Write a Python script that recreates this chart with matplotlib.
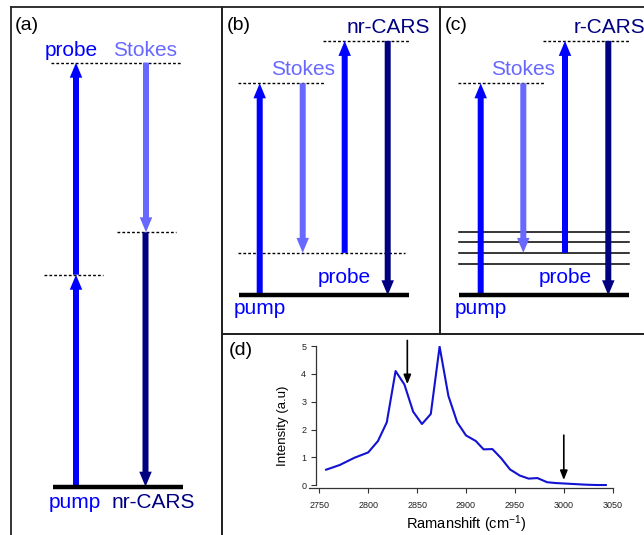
import matplotlib
matplotlib.use("Agg")
import matplotlib.pyplot as plt

plt.rcParams['font.family'] = ['Liberation Sans', 'DejaVu Sans']
plt.rcParams['mathtext.default'] = 'regular'

# ---------------- data ----------------
# photon energies (units of pump photon energy)
pump_energy = 1.0
probe_energy = 1.0
stokes_energy = 0.80
cars_energy = pump_energy + probe_energy - stokes_energy
vib_levels = [0.15, 0.20, 0.25, 0.30]

# Raman spectrum, panel (d)
raman_shift = [2757, 2771, 2786, 2800, 2810, 2819, 2828, 2837, 2846, 2855,
               2864, 2873, 2882, 2891, 2900, 2910, 2918, 2927, 2936, 2945,
               2955, 2964, 2973, 2983, 2992, 3003, 3013, 3024, 3034, 3043]
intensity = [0.56, 0.73, 0.99, 1.18, 1.59, 2.26, 4.10, 3.62, 2.64, 2.20,
             2.56, 4.98, 3.21, 2.26, 1.79, 1.59, 1.29, 1.30, 0.97, 0.57,
             0.35, 0.24, 0.26, 0.11, 0.08, 0.06, 0.04, 0.02, 0.01, 0.01]
marker_shift = [2840, 3000]
marker_top = [5.2, 1.8]
marker_tip = [3.63, 0.19]
x_ticks = [2750, 2800, 2850, 2900, 2950, 3000, 3050]
y_ticks = [0, 1, 2, 3, 4, 5]

# ---------------- style ----------------
W, H = 644, 535
SCALE = 212.0  # px per energy unit
C_PUMP = '#0000ff'
C_STOKES = '#6868ff'
C_CARS = '#000080'
BORDER = '#222222'
LABEL_FS = 15

fig = plt.figure(figsize=(W / 100, H / 100), dpi=100)


def panel_axes(left, top, right, bottom, ground, spines):
    ax = fig.add_axes([left / W, 1 - bottom / H, (right - left) / W, (bottom - top) / H])
    ax.set_xlim(left, right)
    ax.set_ylim((ground - bottom) / SCALE, (ground - top) / SCALE)
    ax.set_xticks([])
    ax.set_yticks([])
    ax.patch.set_alpha(0)
    for k, s in ax.spines.items():
        s.set_visible(k in spines)
        s.set_color(BORDER)
        s.set_linewidth(1.3)
    return ax


def E(ground, px):
    return (ground - px) / SCALE


def arrow(ax, x, e0, e1, color):
    ax.arrow(x, e0, 0, e1 - e0, width=6, head_width=12.5, head_length=15 / SCALE,
             length_includes_head=True, color=color, lw=0, zorder=3)


def dashed(ax, x0, x1, e):
    ax.plot([x0, x1], [e, e], color='black', lw=1.0, ls=(0, (2.0, 1.5)), zorder=2)


def ground_line(ax, x0, x1):
    ax.plot([x0, x1], [0, 0], color='black', lw=3.2, solid_capstyle='butt', zorder=4)


# ---------------- panel (a) ----------------
ga = 486.7
axa = panel_axes(11, 7, 222, 545, ga, ['left', 'top', 'right'])
ground_line(axa, 53, 183)
arrow(axa, 76, 0, pump_energy, C_PUMP)
arrow(axa, 76, pump_energy, pump_energy + probe_energy, C_PUMP)
arrow(axa, 146, pump_energy + probe_energy, pump_energy + probe_energy - stokes_energy, C_STOKES)
arrow(axa, 145.5, cars_energy, 0, C_CARS)
dashed(axa, 51, 181, pump_energy + probe_energy)
dashed(axa, 44, 103, pump_energy)
dashed(axa, 117, 176, cars_energy)
axa.text(15, E(ga, 30), '(a)', fontsize=14, ha='left', va='baseline')
axa.text(71, E(ga, 56.5), 'probe', color=C_PUMP, fontsize=LABEL_FS, ha='center', va='baseline')
axa.text(145, E(ga, 56.5), 'Stokes', color=C_STOKES, fontsize=LABEL_FS, ha='center', va='baseline')
axa.text(75, E(ga, 507.5), 'pump', color=C_PUMP, fontsize=LABEL_FS, ha='center', va='baseline')
axa.text(153, E(ga, 508), 'nr-CARS', color=C_CARS, fontsize=LABEL_FS, ha='center', va='baseline')

# ---------------- panels (b) and (c) ----------------
gb = 295.3
panels = [
    dict(left=222, right=440, spines=['left', 'top', 'right', 'bottom'], tag='(b)',
         xs=[259.7, 302.7, 344.7, 387.7], cars='nr-CARS', gl=(238.7, 408.7),
         d1=(238, 325), d2=(238, 405), d3=(322.7, 410.3), vib=False),
    dict(left=440, right=660, spines=['left', 'top', 'bottom'], tag='(c)',
         xs=[480.7, 523.3, 565, 608.3], cars='r-CARS', gl=(459, 629),
         d1=(458, 545), d2=None, d3=(543, 630), vib=True),
]
for p in panels:
    ax = panel_axes(p['left'], 7, p['right'], 334, gb, p['spines'])
    xp, xs_, xpr, xc = p['xs']
    ground_line(ax, *p['gl'])
    arrow(ax, xp, 0, pump_energy, C_PUMP)
    arrow(ax, xs_, pump_energy, pump_energy - stokes_energy, C_STOKES)
    arrow(ax, xpr, pump_energy - stokes_energy, cars_energy, C_PUMP)
    arrow(ax, xc, cars_energy, 0, C_CARS)
    dashed(ax, *p['d1'], pump_energy)
    dashed(ax, *p['d3'], cars_energy)
    if p['d2'] is not None:
        dashed(ax, *p['d2'], pump_energy - stokes_energy)
    if p['vib']:
        for v in vib_levels:
            ax.plot(p['gl'], [v, v], color='black', lw=1.1, zorder=1)
    ax.text(p['left'] + 5, E(gb, 30), p['tag'], fontsize=14, ha='left', va='baseline')
    ax.text(xc + 1, E(gb, 33.3), p['cars'], color=C_CARS, fontsize=LABEL_FS, ha='center', va='baseline')
    ax.text(xs_, E(gb, 75), 'Stokes', color=C_STOKES, fontsize=LABEL_FS, ha='center', va='baseline')
    ax.text(xpr, E(gb, 283), 'probe', color=C_PUMP, fontsize=LABEL_FS, ha='center', va='baseline')
    ax.text(xp + 0.5, E(gb, 314.5), 'pump', color=C_PUMP, fontsize=LABEL_FS, ha='center', va='baseline')

# ---------------- panel (d) frame ----------------
axf = fig.add_axes([222 / W, 0, (W - 222) / W, (H - 334) / H])
axf.set_xticks([]); axf.set_yticks([])
axf.patch.set_alpha(0)
for k, s in axf.spines.items():
    s.set_visible(k in ('left', 'top'))
    s.set_color(BORDER)
    s.set_linewidth(1.3)
axf.text(7 / (W - 222), 1 - 21 / (H - 334), '(d)', transform=axf.transAxes,
         fontsize=14, ha='left', va='baseline')

# ---------------- panel (d) plot ----------------
x_px0, x_px1 = 309.0, 612.7
y_px0, y_px1 = 487.7, 346.0
axd = fig.add_axes([x_px0 / W, 1 - y_px0 / H, (x_px1 - x_px0) / W, (y_px0 - y_px1) / H])
ppx = (612.7 - 319.3) / 300.0
ppy = (485.3 - 346.0) / 5.0
axd.set_xlim(3050 - (x_px1 - x_px0) / ppx, 3050)
axd.set_ylim(-(y_px0 - 485.3) / ppy, 5.0)
axd.patch.set_alpha(0)
axd.plot(raman_shift, intensity, color='#1212d2', lw=1.5, zorder=3)
for xm, yt, yb in zip(marker_shift, marker_top, marker_tip):
    axd.annotate('', xy=(xm, yb), xytext=(xm, yt), annotation_clip=False,
                 arrowprops=dict(arrowstyle='-|>,head_width=0.22,head_length=0.55',
                                 color='black', lw=1.2, shrinkA=0, shrinkB=0,
                                 mutation_scale=10))
axd.spines['right'].set_visible(False)
axd.spines['top'].set_visible(False)
axd.spines['left'].set_position(('data', 2750 - (319.3 - 316.0) / ppx))
axd.spines['left'].set_bounds(0, 5)
for s in ('left', 'bottom'):
    axd.spines[s].set_color('#333333')
    axd.spines[s].set_linewidth(0.9)
axd.set_xticks(x_ticks)
axd.set_yticks(y_ticks)
axd.tick_params(axis='both', labelsize=6.5, length=3.5, width=0.8, color='#333333',
                labelcolor='#222222')
axd.tick_params(axis='x', pad=6)
axd.tick_params(axis='y', pad=3.5)
axd.set_xlabel('Ramanshift (cm$^{-1}$)', fontsize=10.5)
axd.set_ylabel('Intensity (a.u)', fontsize=9.5)
axd.xaxis.set_label_coords((466 - x_px0) / (x_px1 - x_px0), (y_px0 - 524) / (y_px0 - y_px1))
axd.yaxis.set_label_coords((283 - x_px0) / (x_px1 - x_px0), (y_px0 - 426.3) / (y_px0 - y_px1))
axd.xaxis.label.set_va('center')
axd.yaxis.label.set_va('center')

fig.savefig('out.png', dpi=100, facecolor='white')
